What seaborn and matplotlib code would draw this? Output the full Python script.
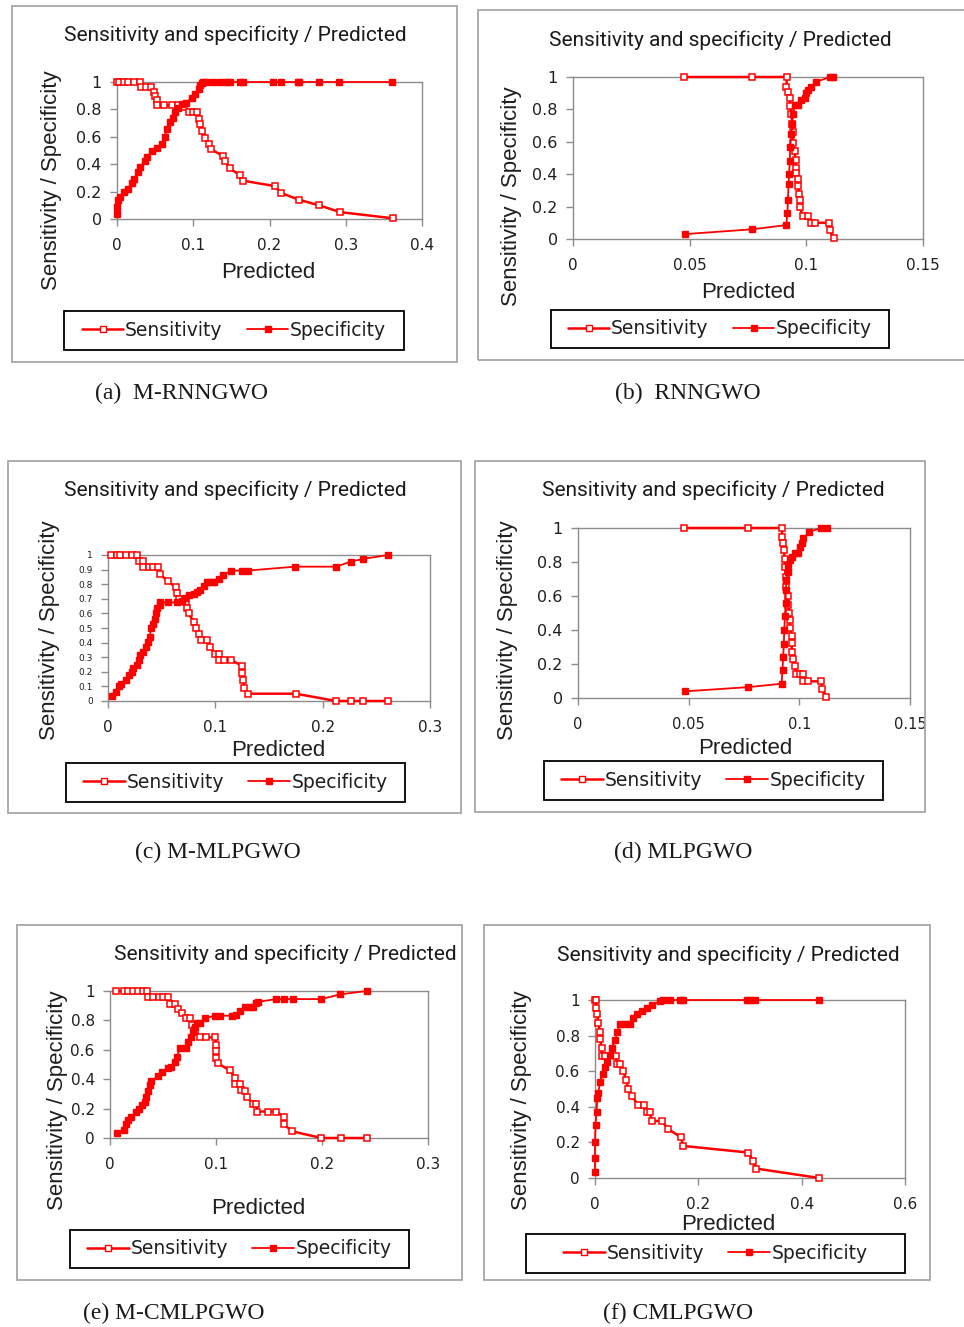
import matplotlib
matplotlib.use("Agg")
import matplotlib.pyplot as plt
import seaborn as sns
from matplotlib.lines import Line2D
from matplotlib.patches import Rectangle

# ---- data ----
a_sens_x = [0.000, 0.002, 0.009, 0.015, 0.022, 0.030,
            0.031, 0.038, 0.045, 0.048, 0.050, 0.052, 0.053,
            0.062, 0.072, 0.080, 0.088, 0.095, 0.100, 0.105,
            0.107, 0.109, 0.112, 0.116, 0.120, 0.123, 0.139,
            0.142, 0.148, 0.161, 0.165, 0.207, 0.215, 0.239,
            0.265, 0.293, 0.362]
a_sens_y = [1.00, 1.00, 1.00, 1.00, 1.00, 1.00,
            0.96, 0.96, 0.96, 0.93, 0.90, 0.87, 0.83,
            0.83, 0.83, 0.83, 0.82, 0.78, 0.78, 0.78,
            0.73, 0.69, 0.64, 0.59, 0.55, 0.51, 0.46,
            0.42, 0.37, 0.32, 0.28, 0.24, 0.19, 0.14,
            0.10, 0.05, 0.005]
a_spec_x = [0.000, 0.000, 0.001, 0.004, 0.009, 0.015, 0.020, 0.022, 0.028, 0.030,
            0.037, 0.039, 0.046, 0.052, 0.059, 0.063, 0.065, 0.070, 0.074, 0.076,
            0.080, 0.085, 0.090, 0.098, 0.102, 0.107, 0.109, 0.111, 0.113, 0.117,
            0.126, 0.135, 0.143, 0.148, 0.161, 0.165, 0.204, 0.215, 0.237, 0.239,
            0.265, 0.291, 0.361]
a_spec_y = [0.04, 0.09, 0.14, 0.16, 0.20, 0.22, 0.26, 0.29, 0.34, 0.38,
            0.42, 0.45, 0.50, 0.52, 0.55, 0.60, 0.66, 0.71, 0.74, 0.78,
            0.81, 0.84, 0.85, 0.88, 0.91, 0.95, 0.98, 0.99, 1.00, 1.00,
            1.00, 1.00, 1.00, 1.00, 1.00, 1.00, 1.00, 1.00, 1.00, 1.00,
            1.00, 1.00, 1.00]

b_sens_x = [0.0474, 0.0769, 0.0917, 0.0914, 0.0921, 0.0929, 0.0931, 0.0936, 0.0940, 0.0943,
            0.0943, 0.0950, 0.0954, 0.0954, 0.0957, 0.0964, 0.0964, 0.0969, 0.0971, 0.0971,
            0.0986, 0.1007, 0.1021, 0.1036, 0.1097, 0.1100, 0.1117]
b_sens_y = [1.00, 1.00, 1.00, 0.94, 0.91, 0.87, 0.82, 0.77, 0.71, 0.66,
            0.59, 0.545, 0.49, 0.44, 0.41, 0.37, 0.33, 0.28, 0.24, 0.20,
            0.14, 0.14, 0.10, 0.10, 0.10, 0.055, 0.004]
b_spec_x = [0.0479, 0.0769, 0.0914, 0.0919, 0.0921, 0.0924, 0.0926, 0.0929, 0.0931, 0.0936,
            0.0939, 0.0943, 0.0950, 0.0964, 0.0979, 0.0993, 0.1000, 0.1007, 0.1021, 0.1043,
            0.1100, 0.1114]
b_spec_y = [0.03, 0.06, 0.086, 0.16, 0.24, 0.34, 0.40, 0.48, 0.57, 0.65,
            0.71, 0.77, 0.83, 0.83, 0.855, 0.87, 0.90, 0.92, 0.94, 0.97,
            1.00, 1.00]

c_sens_x = [0.003, 0.008, 0.011, 0.017, 0.022, 0.027, 0.029, 0.033, 0.033, 0.038,
            0.042, 0.047, 0.048, 0.056, 0.063, 0.064, 0.066, 0.073, 0.074, 0.075,
            0.080, 0.082, 0.085, 0.087, 0.092, 0.095, 0.100, 0.103, 0.103, 0.108,
            0.115, 0.125, 0.125, 0.126, 0.127, 0.130, 0.175, 0.2125, 0.226, 0.2375,
            0.261]
c_sens_y = [1.00, 1.00, 1.00, 1.00, 1.00, 1.00, 0.96, 0.96, 0.916, 0.916,
            0.916, 0.916, 0.87, 0.82, 0.78, 0.74, 0.70, 0.68, 0.635, 0.60,
            0.54, 0.50, 0.46, 0.42, 0.42, 0.37, 0.32, 0.32, 0.28, 0.28,
            0.28, 0.24, 0.19, 0.145, 0.09, 0.05, 0.05, 0.00, 0.00, 0.00,
            0.00]
c_spec_x = [0.004, 0.007, 0.010, 0.0125, 0.017, 0.020, 0.022, 0.023, 0.027, 0.029,
            0.030, 0.033, 0.035, 0.0375, 0.039, 0.040, 0.042, 0.044, 0.045, 0.046,
            0.048, 0.048, 0.056, 0.064, 0.069, 0.072, 0.075, 0.080, 0.083, 0.086,
            0.089, 0.092, 0.096, 0.099, 0.103, 0.107, 0.115, 0.125, 0.130, 0.174,
            0.2125, 0.226, 0.2375, 0.261]
c_spec_y = [0.037, 0.064, 0.105, 0.114, 0.144, 0.178, 0.20, 0.224, 0.246, 0.28,
            0.315, 0.337, 0.372, 0.406, 0.44, 0.498, 0.53, 0.56, 0.60, 0.635,
            0.658, 0.676, 0.676, 0.676, 0.685, 0.703, 0.726, 0.73, 0.749, 0.76,
            0.788, 0.817, 0.817, 0.817, 0.833, 0.863, 0.893, 0.893, 0.893, 0.92,
            0.92, 0.954, 0.973, 1.00]

d_sens_x = [0.0479, 0.0769, 0.0920, 0.0923, 0.0927, 0.0930, 0.0934, 0.0934, 0.0939, 0.0942,
            0.0947, 0.0950, 0.0954, 0.0957, 0.0957, 0.0965, 0.0965, 0.0966, 0.0972, 0.0980,
            0.0987, 0.1003, 0.1018, 0.1018, 0.1040, 0.1100, 0.1104, 0.1120]
d_sens_y = [1.00, 1.00, 1.00, 0.95, 0.91, 0.87, 0.82, 0.77, 0.71, 0.655,
            0.60, 0.55, 0.50, 0.46, 0.41, 0.365, 0.325, 0.27, 0.23, 0.19,
            0.14, 0.14, 0.14, 0.098, 0.098, 0.098, 0.053, 0.006]
d_spec_x = [0.0482, 0.0769, 0.0920, 0.0924, 0.0927, 0.0930, 0.0932, 0.0935, 0.0938, 0.0939,
            0.0942, 0.0947, 0.0950, 0.0957, 0.0965, 0.0980, 0.0995, 0.1003, 0.1010, 0.1018,
            0.1045, 0.1100, 0.1123]
d_spec_y = [0.039, 0.064, 0.084, 0.166, 0.243, 0.32, 0.40, 0.48, 0.556, 0.635,
            0.693, 0.74, 0.78, 0.81, 0.83, 0.853, 0.853, 0.89, 0.914, 0.94,
            0.977, 1.00, 1.00]

e_sens_x = [0.006, 0.013, 0.017, 0.022, 0.026, 0.031, 0.035, 0.036, 0.041, 0.046,
            0.050, 0.055, 0.0565, 0.061, 0.0644, 0.0675, 0.072, 0.075, 0.077, 0.080,
            0.085, 0.091, 0.099, 0.100, 0.100, 0.100, 0.102, 0.113, 0.118, 0.118,
            0.1225, 0.124, 0.127, 0.129, 0.135, 0.138, 0.139, 0.149, 0.157, 0.164,
            0.164, 0.172, 0.1995, 0.218, 0.242]
e_sens_y = [1.00, 1.00, 1.00, 1.00, 1.00, 1.00, 1.00, 0.957, 0.957, 0.957,
            0.957, 0.957, 0.91, 0.91, 0.875, 0.848, 0.818, 0.814, 0.77, 0.734,
            0.684, 0.684, 0.684, 0.63, 0.59, 0.545, 0.507, 0.46, 0.41, 0.37,
            0.37, 0.325, 0.318, 0.28, 0.234, 0.234, 0.18, 0.18, 0.18, 0.143,
            0.093, 0.045, 0.00, 0.00, 0.00]
e_spec_x = [0.007, 0.013, 0.015, 0.017, 0.020, 0.0245, 0.027, 0.030, 0.033, 0.034,
            0.036, 0.038, 0.039, 0.0455, 0.049, 0.055, 0.058, 0.061, 0.063, 0.066,
            0.0716, 0.074, 0.076, 0.0785, 0.080, 0.0817, 0.085, 0.0895, 0.099, 0.104,
            0.1147, 0.119, 0.1225, 0.127, 0.132, 0.135, 0.138, 0.140, 0.157, 0.164,
            0.173, 0.1995, 0.217, 0.242]
e_spec_y = [0.036, 0.052, 0.098, 0.12, 0.143, 0.177, 0.20, 0.223, 0.245, 0.28,
            0.318, 0.36, 0.386, 0.423, 0.45, 0.477, 0.484, 0.514, 0.55, 0.61,
            0.614, 0.655, 0.69, 0.723, 0.757, 0.78, 0.784, 0.814, 0.832, 0.832,
            0.832, 0.84, 0.864, 0.889, 0.889, 0.889, 0.916, 0.927, 0.945, 0.945,
            0.945, 0.945, 0.977, 1.00]

f_sens_x = [0.000, 0.002, 0.002, 0.0045, 0.0065, 0.0097, 0.0097, 0.013, 0.013, 0.019,
            0.0406, 0.042, 0.048, 0.055, 0.060, 0.0645, 0.071, 0.084, 0.094, 0.100,
            0.106, 0.110, 0.129, 0.142, 0.166, 0.171, 0.297, 0.306, 0.312, 0.434]
f_sens_y = [1.00, 1.00, 0.953, 0.92, 0.87, 0.82, 0.78, 0.73, 0.687, 0.687,
            0.687, 0.64, 0.64, 0.60, 0.55, 0.50, 0.46, 0.41, 0.41, 0.37,
            0.37, 0.32, 0.32, 0.274, 0.23, 0.18, 0.143, 0.094, 0.053, 0.00]
f_spec_x = [0.000, 0.000, 0.000, 0.001, 0.003, 0.0045, 0.0065, 0.0097, 0.015, 0.019,
            0.0226, 0.029, 0.032, 0.039, 0.043, 0.048, 0.058, 0.068, 0.073, 0.081,
            0.090, 0.100, 0.110, 0.126, 0.131, 0.145, 0.165, 0.171, 0.295, 0.300,
            0.310, 0.434]
f_spec_y = [0.034, 0.11, 0.20, 0.30, 0.37, 0.45, 0.48, 0.54, 0.587, 0.625,
            0.653, 0.69, 0.73, 0.775, 0.82, 0.863, 0.863, 0.863, 0.90, 0.92,
            0.94, 0.953, 0.97, 0.995, 1.00, 1.00, 1.00, 1.00, 1.00, 1.00,
            1.00, 1.00]

xticks_04 = [0, 0.1, 0.2, 0.3, 0.4]
xticks_015 = [0, 0.05, 0.1, 0.15]
xticks_03 = [0, 0.1, 0.2, 0.3]
xticks_06 = [0, 0.2, 0.4, 0.6]
yticks_02 = [0, 0.2, 0.4, 0.6, 0.8, 1]
yticks_01 = [0, 0.1, 0.2, 0.3, 0.4, 0.5, 0.6, 0.7, 0.8, 0.9, 1]

captions = ["(a)  M-RNNGWO", "(b)  RNNGWO", "(c) M-MLPGWO",
            "(d) MLPGWO", "(e) M-CMLPGWO", "(f) CMLPGWO"]
title = "Sensitivity and specificity / Predicted"
series_names = ["Sensitivity", "Specificity"]

# ---- layout in reference pixels ----
W, H = 964, 1327
RED = "#ff0000"
GREY = "#8c8c8c"

panels = [
    dict(sens=(a_sens_x, a_sens_y), spec=(a_spec_x, a_spec_y), xt=xticks_04, yt=yticks_02,
         ax=(117, 82, 422, 219), title=(235, 35), xlab=(268, 273), ylab=(52, 180),
         leg=(64, 311, 404, 350), frame=(12, 6, 457, 362), cap=(95, 393), yfs=11.5, xfs=11),
    dict(sens=(b_sens_x, b_sens_y), spec=(b_spec_x, b_spec_y), xt=xticks_015, yt=yticks_02,
         ax=(573, 77, 923, 239), title=(720, 40), xlab=(748, 293), ylab=(512, 196),
         leg=(551, 310, 889, 348), frame=(478, 10, 970, 360), cap=(615, 393), yfs=11.5, xfs=11),
    dict(sens=(c_sens_x, c_sens_y), spec=(c_spec_x, c_spec_y), xt=xticks_03, yt=yticks_01,
         ax=(108, 555, 430, 701), title=(235, 490), xlab=(278, 750), ylab=(50, 630),
         leg=(66, 763, 405, 802), frame=(8, 461, 461, 813), cap=(135, 852), yfs=6.5, xfs=11),
    dict(sens=(d_sens_x, d_sens_y), spec=(d_spec_x, d_spec_y), xt=xticks_015, yt=yticks_02,
         ax=(578, 528, 910, 698), title=(713, 490), xlab=(745, 748), ylab=(507, 630),
         leg=(544, 761, 883, 800), frame=(475, 461, 925, 812), cap=(614, 852), yfs=11.5, xfs=10.5),
    dict(sens=(e_sens_x, e_sens_y), spec=(e_spec_x, e_spec_y), xt=xticks_03, yt=yticks_02,
         ax=(110, 991, 428, 1138), title=(285, 954), xlab=(258, 1208), ylab=(57, 1100),
         leg=(70, 1230, 409, 1268), frame=(17, 925, 462, 1280), cap=(83, 1313), yfs=11, xfs=11),
    dict(sens=(f_sens_x, f_sens_y), spec=(f_spec_x, f_spec_y), xt=xticks_06, yt=yticks_02,
         ax=(595, 1000, 905, 1178), title=(728, 955), xlab=(728, 1224), ylab=(522, 1100),
         leg=(526, 1234, 905, 1273), frame=(484, 925, 930, 1280), cap=(603, 1313), yfs=11, xfs=11),
]


def fx(x):
    return x / W


def fy(y):
    return 1 - y / H


sns.set_theme(style="white")
plt.rcParams["font.family"] = ["DejaVu Sans"]

fig = plt.figure(figsize=(W / 100, H / 100), dpi=100)
fig.patch.set_facecolor("white")

for i, p in enumerate(panels):
    l, t, r, b = p["ax"]
    ax = fig.add_axes([fx(l), fy(b), (r - l) / W, (b - t) / H])

    sx, sy = p["sens"]
    sns.lineplot(x=sx, y=sy, ax=ax, estimator=None, sort=False, color=RED,
                 linewidth=1.8, marker="s", markersize=4.6, markerfacecolor="white",
                 markeredgecolor=RED, markeredgewidth=1.1, clip_on=False, zorder=3)
    px_, py_ = p["spec"]
    sns.lineplot(x=px_, y=py_, ax=ax, estimator=None, sort=False, color=RED,
                 linewidth=1.3, marker="s", markersize=4.6, markerfacecolor=RED,
                 markeredgecolor=RED, markeredgewidth=1, clip_on=False, zorder=3)

    ax.set_xlim(p["xt"][0], p["xt"][-1])
    ax.set_ylim(0, 1)
    ax.set_xticks(p["xt"])
    ax.set_xticklabels(["{:g}".format(v) for v in p["xt"]])
    ax.set_yticks(p["yt"])
    ax.set_yticklabels(["{:g}".format(v) for v in p["yt"]])
    ax.set_xlabel("")
    ax.set_ylabel("")
    for s in ax.spines.values():
        s.set_color(GREY)
        s.set_linewidth(1)
    ax.tick_params(axis="x", direction="out", length=5, width=1, color=GREY,
                   labelsize=p["xfs"], labelcolor="#1f1f1f", pad=9, bottom=True)
    ax.tick_params(axis="y", direction="out", length=5, width=1, color=GREY,
                   labelsize=p["yfs"], labelcolor="#1f1f1f", pad=6, left=True)
    ax.set_facecolor("white")

    fig.text(fx(p["title"][0]), fy(p["title"][1]), title, ha="center", va="center",
             fontsize=15, family="Roboto", color="#1a1a1a")
    fig.text(fx(p["xlab"][0]), fy(p["xlab"][1]), "Predicted", ha="center", va="center",
             fontsize=16, family="Liberation Sans", color="#1f1f1f")
    fig.text(fx(p["ylab"][0]), fy(p["ylab"][1]), "Sensitivity / Specificity", ha="center",
             va="center", rotation=90, fontsize=16, family="Liberation Sans", color="#1f1f1f")

    # legend box
    ll, lt, lr, lb = p["leg"]
    fig.add_artist(Rectangle((fx(ll), fy(lb)), (lr - ll) / W, (lb - lt) / H,
                             transform=fig.transFigure, fill=False, edgecolor="black", lw=1.3))
    handles = [
        Line2D([], [], color=RED, lw=1.8, marker="s", markersize=4,
               markerfacecolor="white", markeredgecolor=RED),
        Line2D([], [], color=RED, lw=1.3, marker="s", markersize=4,
               markerfacecolor=RED, markeredgecolor=RED),
    ]
    fig.legend(handles, series_names, loc="center",
               bbox_to_anchor=(fx((ll + lr) / 2), fy((lt + lb) / 2)),
               bbox_transform=fig.transFigure, ncol=2, frameon=False,
               handlelength=2.2, handletextpad=0.1, columnspacing=1.3,
               prop={"family": "DejaVu Sans", "size": 13.5}, labelcolor="#1f1f1f")

    # outer chart frame
    fl, ft, fr, fb = p["frame"]
    fig.add_artist(Rectangle((fx(fl), fy(fb)), (fr - fl) / W, (fb - ft) / H,
                             transform=fig.transFigure, fill=False, edgecolor="#a6a6a6", lw=1.3))

    fig.text(fx(p["cap"][0]), fy(p["cap"][1]), captions[i], ha="left", va="center",
             fontsize=17, family="Liberation Serif", color="#1a1a1a")

fig.savefig("out.png", dpi=100, facecolor="white")
